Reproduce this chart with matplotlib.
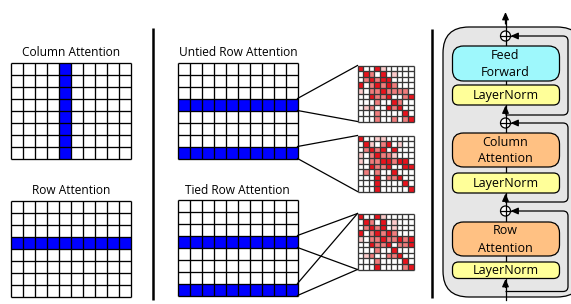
import matplotlib
matplotlib.use('Agg')
import matplotlib.pyplot as plt
import numpy as np
from matplotlib.patches import FancyBboxPatch, Circle, PathPatch
from matplotlib.colors import ListedColormap
from matplotlib.path import Path

plt.rcParams['font.family'] = ['Open Sans', 'DejaVu Sans']

# ---------------- data ----------------
grid_rows = 8
grid_cols = 10
column_attn_cols = [4]
row_attn_rows = [3]
untied_rows = [3, 7]
tied_rows = [3, 7]
panel_titles = ["Column Attention", "Row Attention",
                "Untied Row Attention", "Tied Row Attention"]

# attention maps: 0 = none, 1 = weak, 2 = medium, 3 = strong
heat_untied_a = [
    [3, 0, 0, 3, 1, 0, 0, 0, 0, 0],
    [0, 3, 2, 0, 3, 0, 1, 0, 0, 0],
    [0, 2, 3, 2, 3, 3, 0, 0, 0, 0],
    [3, 0, 2, 3, 2, 3, 2, 0, 0, 0],
    [1, 0, 2, 2, 3, 2, 2, 2, 2, 0],
    [0, 0, 3, 2, 2, 3, 0, 0, 2, 3],
    [0, 0, 0, 2, 0, 0, 3, 2, 0, 0],
    [0, 1, 2, 0, 0, 3, 2, 3, 0, 0],
    [0, 0, 0, 2, 0, 0, 0, 0, 3, 0],
    [0, 0, 0, 2, 0, 0, 2, 0, 2, 3],
]
heat_untied_b = [
    [3, 0, 0, 1, 1, 0, 0, 0, 0, 0],
    [0, 3, 1, 0, 2, 3, 0, 1, 0, 0],
    [0, 2, 3, 2, 3, 0, 3, 0, 0, 0],
    [1, 0, 2, 3, 2, 2, 1, 0, 0, 0],
    [1, 0, 2, 2, 3, 3, 2, 3, 3, 0],
    [0, 0, 3, 2, 2, 3, 0, 0, 3, 3],
    [0, 2, 0, 2, 0, 0, 3, 0, 0, 0],
    [0, 0, 0, 3, 0, 2, 2, 3, 0, 0],
    [0, 0, 0, 3, 0, 0, 0, 0, 3, 0],
    [0, 0, 0, 3, 0, 0, 0, 0, 0, 3],
]
heat_tied = [
    [3, 0, 0, 3, 1, 0, 0, 0, 0, 0],
    [0, 3, 2, 0, 3, 0, 1, 0, 0, 0],
    [0, 2, 3, 2, 3, 0, 1, 0, 0, 0],
    [3, 0, 2, 3, 2, 3, 2, 0, 0, 0],
    [1, 0, 2, 2, 3, 2, 2, 3, 2, 3],
    [0, 0, 3, 2, 2, 3, 0, 2, 2, 3],
    [0, 0, 0, 2, 0, 0, 3, 0, 0, 0],
    [0, 1, 2, 0, 0, 2, 2, 3, 0, 0],
    [0, 0, 0, 2, 0, 0, 0, 0, 3, 0],
    [0, 0, 0, 3, 0, 0, 0, 0, 2, 3],
]

block_labels = ["Feed\nForward", "LayerNorm", "Column\nAttention",
                "LayerNorm", "Row\nAttention", "LayerNorm"]
block_kinds = ["ff", "ln", "attn", "ln", "attn", "ln"]

# ---------------- styles ----------------
BLUE = '#0000ff'
heat_cmap = ListedColormap(['#ffffff', '#fbcaca', '#f07c7c', '#e8121c'])
kind_color = {"ff": '#9ef8fc', "ln": '#ffff99', "attn": '#ffc183'}

fig = plt.figure(figsize=(5.71, 3.04), dpi=100)
ax = fig.add_axes([0, 0, 1, 1])
ax.set_xlim(0, 571)
ax.set_ylim(304, 0)
ax.axis('off')


def draw_lines(xe, ye, color, lw):
    ax.vlines(xe, ye[0], ye[-1], colors=color, lw=lw, zorder=3)
    ax.hlines(ye, xe[0], xe[-1], colors=color, lw=lw, zorder=3)


def attn_grid(x0, y0, cell, rows_hl=(), cols_hl=()):
    M = np.zeros((grid_rows, grid_cols))
    for r in rows_hl:
        M[r, :] = 1
    for c in cols_hl:
        M[:, c] = 1
    xe = x0 + cell * np.arange(grid_cols + 1)
    ye = y0 + cell * np.arange(grid_rows + 1)
    ax.pcolormesh(xe, ye, M, cmap=ListedColormap(['white', BLUE]),
                  vmin=0, vmax=1, edgecolors='none')
    draw_lines(xe, ye, 'black', 0.95)
    return xe, ye


def heat(x0, y0, s, data):
    M = np.array(data)
    n = M.shape[0]
    xe = np.linspace(x0, x0 + s, n + 1)
    ye = np.linspace(y0, y0 + s, n + 1)
    ax.pcolormesh(xe, ye, M, cmap=heat_cmap, vmin=0, vmax=3,
                  edgecolors='none')
    draw_lines(xe, ye, '#383838', 0.95)


title_kw = dict(ha='center', va='center', fontsize=8.6)

# left panels
ax.text(71, 52, panel_titles[0], **title_kw)
attn_grid(10.5, 62.5, 12, cols_hl=column_attn_cols)
ax.text(71, 191, panel_titles[1], **title_kw)
attn_grid(10.5, 200.5, 12, rows_hl=row_attn_rows)

# separators
ax.plot([153, 153], [28, 300], color='black', lw=1.8, solid_capstyle='butt')
ax.plot([432, 432], [29, 298], color='black', lw=1.8, solid_capstyle='butt')

# untied / tied
ax.text(238, 52, panel_titles[2], **title_kw)
xe_u, ye_u = attn_grid(177.5, 62.5, 12, rows_hl=untied_rows)
ax.text(237, 191, panel_titles[3], **title_kw)
xe_t, ye_t = attn_grid(177.5, 199.5, 12, rows_hl=tied_rows)

hx, hs = 357.5, 56
heat_tops = [65.5, 135.5, 213.5]
heat(hx, heat_tops[0], hs, heat_untied_a)
heat(hx, heat_tops[1], hs, heat_untied_b)
heat(hx, heat_tops[2], hs, heat_tied)

gr = xe_u[-1]
for r, ht in zip(untied_rows, heat_tops[:2]):
    ax.plot([gr, hx], [ye_u[r], ht], color='black', lw=0.9)
    ax.plot([gr, hx], [ye_u[r + 1], ht + hs], color='black', lw=0.9)
for r in tied_rows:
    ax.plot([gr, hx], [ye_t[r], heat_tops[2]], color='black', lw=0.9)
    ax.plot([gr, hx], [ye_t[r + 1], heat_tops[2] + hs], color='black', lw=0.9)

# ---------------- transformer block ----------------
outer = FancyBboxPatch((443, 27), 140, 270,
                       boxstyle='round,pad=0,rounding_size=26',
                       facecolor='#e6e6e6', edgecolor='black', lw=0.9)
ax.add_patch(outer)

cx = 505.5
bx0, bx1 = 452.5, 559.5
block_ys = [(46, 81), (85, 105), (133, 167), (173, 193), (222, 256), (262, 278.5)]
plus_ys = [36, 123, 211]

# main line
ax.plot([cx, cx], [300, 20], color='black', lw=0.9)

for (y0, y1), lab, kind in zip(block_ys, block_labels, block_kinds):
    rs = 11 if kind != 'ln' else 6
    p = FancyBboxPatch((bx0, y0), bx1 - bx0, y1 - y0,
                       boxstyle=f'round,pad=0,rounding_size={rs}',
                       facecolor=kind_color[kind], edgecolor='black', lw=0.9,
                       zorder=3)
    ax.add_patch(p)
    ax.text(cx, (y0 + y1) / 2 + 0.5, lab, ha='center', va='center',
            fontsize=9, linespacing=1.4, zorder=4)

arrow_kw = dict(arrowstyle='-|>,head_length=0.45,head_width=0.2',
                color='black', lw=0.9, shrinkA=0, shrinkB=0)
# up arrows on main line
ax.annotate('', xy=(cx, 12), xytext=(cx, 24), arrowprops=arrow_kw, zorder=5)
for ln_bottom in [105, 193, 278.5]:
    ax.annotate('', xy=(cx, ln_bottom + 0.5), xytext=(cx, ln_bottom + 9),
                arrowprops=arrow_kw, zorder=5)

# residual paths
rx = 568
branch_ys = [115, 202, 291.5]
rr = 5
for py, by in zip(plus_ys, branch_ys):
    verts = [(cx, by), (rx - rr, by), (rx, by), (rx, by - rr),
             (rx, py + rr), (rx, py), (rx - rr, py), (cx + 11, py)]
    codes = [Path.MOVETO, Path.LINETO, Path.CURVE3, Path.CURVE3,
             Path.LINETO, Path.CURVE3, Path.CURVE3, Path.LINETO]
    ax.add_patch(PathPatch(Path(verts, codes), facecolor='none',
                           edgecolor='black', lw=0.9, zorder=2))
    ax.annotate('', xy=(cx + 5, py), xytext=(cx + 12, py),
                arrowprops=arrow_kw, zorder=5)
    c = Circle((cx, py), 5, facecolor='white', edgecolor='black', lw=0.9, zorder=4)
    ax.add_patch(c)
    ax.plot([cx - 5, cx + 5], [py, py], color='black', lw=0.9, zorder=5)
    ax.plot([cx, cx], [py - 5, py + 5], color='black', lw=0.9, zorder=5)

fig.savefig('out.png', dpi=100)
